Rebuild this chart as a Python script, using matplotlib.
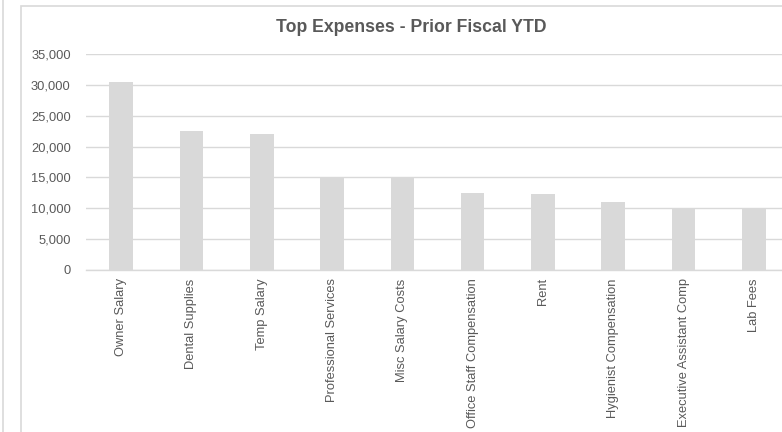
import matplotlib.pyplot as plt
from matplotlib.patches import Rectangle
from matplotlib.lines import Line2D
from matplotlib.ticker import FuncFormatter

plt.rcParams['font.family'] = ['Liberation Sans', 'DejaVu Sans']

# data
categories = ['Owner Salary', 'Dental Supplies', 'Temp Salary', 'Professional Services',
              'Misc Salary Costs', 'Office Staff Compensation', 'Rent',
              'Hygienist Compensation', 'Executive Assistant Comp', 'Lab Fees']
expenses = [30500, 22500, 22000, 14900, 14900, 12500, 12250, 11000, 9900, 9850]
y_ticks = [0, 5000, 10000, 15000, 20000, 25000, 30000, 35000]

W, H = 782, 432
grid_col = '#d9d9d9'
text_col = '#595959'

fig = plt.figure(figsize=(W / 100, H / 100), dpi=100)
fig.patch.set_facecolor('white')

# chart frame (cut off at right and bottom) plus the edge of a neighbouring box
fig.add_artist(Rectangle((20.5 / W, -0.1), 1.2, 1 - 6.5 / H + 0.1, transform=fig.transFigure,
                         fill=False, edgecolor=grid_col, linewidth=1.2))
fig.add_artist(Line2D([3 / W, 3 / W], [0, 1], transform=fig.transFigure,
                      color=grid_col, linewidth=1.2))

ax = fig.add_axes([86 / W, (H - 270) / H, 703 / W, 216 / H])
x = range(len(categories))
ax.bar(x, expenses, width=0.337, color='#d9d9d9', zorder=2)

ax.set_xlim(-0.5, len(categories) - 0.5)
ax.set_ylim(0, 35000)
ax.set_yticks(y_ticks)
ax.yaxis.set_major_formatter(FuncFormatter(lambda v, p: f'{v:,.0f}'))
ax.set_xticks(list(x))
ax.set_xticklabels(categories, rotation=90)
ax.tick_params(axis='y', length=0, pad=11, labelsize=9.3, labelcolor=text_col)
ax.tick_params(axis='x', length=0, pad=6, labelsize=9.3, labelcolor=text_col)

ax.grid(axis='y', color=grid_col, linewidth=1.0, zorder=0)
for side in ['top', 'right', 'left']:
    ax.spines[side].set_visible(False)
ax.spines['bottom'].set_color(grid_col)
ax.spines['bottom'].set_linewidth(1.0)
ax.set_axisbelow(True)

fig.text(411 / W, (H - 27) / H, 'Top Expenses - Prior Fiscal YTD', ha='center', va='center',
         fontsize=12.7, fontweight='bold', color=text_col)

fig.savefig('out.png', dpi=100)
